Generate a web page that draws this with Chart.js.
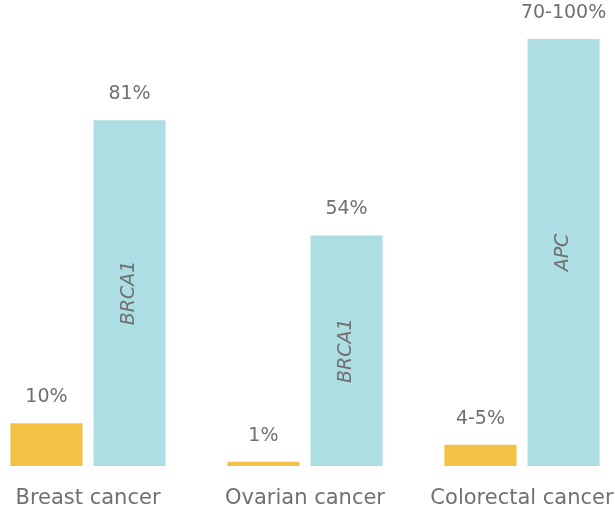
<!DOCTYPE html>
<html>
<head>
<meta charset="utf-8">
<script src="https://cdn.jsdelivr.net/npm/chart.js@4"></script>
<style>
  html, body { margin: 0; padding: 0; background: #fff; }
  #wrap { width: 615px; height: 507px; }
</style>
</head>
<body>
<div id="wrap"><canvas id="chart"></canvas></div>
<script>
var categories = ['Breast cancer', 'Ovarian cancer', 'Colorectal cancer'];
var generalRisk = [10, 1, 5];          // general population
var carrierRisk = [81, 54, 100];       // gene carriers
var generalLabels = ['10%', '1%', '4-5%'];
var carrierLabels = ['81%', '54%', '70-100%'];
var geneNames = ['BRCA1', 'BRCA1', 'APC'];

var FONT = "'DejaVu Sans', sans-serif";
var GREY = '#707070';

// value labels above bars + gene name inside blue bars
var barText = {
    id: 'barText',
    afterDatasetsDraw: function (chart) {
        var ctx = chart.ctx;
        var tops = [generalLabels, carrierLabels];
        ctx.save();
        chart.data.datasets.forEach(function (ds, di) {
            var meta = chart.getDatasetMeta(di);
            meta.data.forEach(function (bar, i) {
                ctx.fillStyle = GREY;
                ctx.font = '19px ' + FONT;
                ctx.textAlign = 'center';
                ctx.textBaseline = 'alphabetic';
                ctx.fillText(tops[di][i], bar.x, bar.y - 21);

                if (di === 1) {
                    ctx.save();
                    ctx.translate(bar.x, (bar.y + bar.base) / 2);
                    ctx.rotate(-Math.PI / 2);
                    ctx.font = 'italic 19px ' + FONT;
                    ctx.textBaseline = 'middle';
                    ctx.fillText(geneNames[i], 0, 0);
                    ctx.restore();
                }
            });
        });
        ctx.restore();
    }
};

var ctx = document.getElementById('chart').getContext('2d');
var chart = new Chart(ctx, {
    type: 'bar',
    data: {
        labels: categories,
        datasets: [{
            label: 'General population',
            data: generalRisk,
            backgroundColor: '#F3C144',
            clip: false
        }, {
            label: 'Gene carriers',
            data: carrierRisk,
            backgroundColor: '#ADDEE3',
            clip: false
        }]
    },
    options: {
        responsive: true,
        maintainAspectRatio: false,
        animation: false,
        categoryPercentage: 0.766,
        barPercentage: 0.867,
        layout: {
            padding: { top: 39, left: 88, right: 93, bottom: 0 }
        },
        plugins: {
            legend: { display: false },
            tooltip: { enabled: false }
        },
        scales: {
            x: {
                offset: false,
                grid: { display: false },
                border: { display: false },
                ticks: {
                    color: GREY,
                    font: { family: FONT, size: 21 },
                    padding: 12,
                    maxRotation: 0,
                    autoSkip: false
                },
                afterFit: function (scale) {
                    scale.height = 41;
                    scale.paddingLeft = 0;
                    scale.paddingRight = 0;
                }
            },
            y: {
                display: false,
                min: 0,
                max: 100
            }
        }
    },
    plugins: [barText]
});
</script>
</body>
</html>
